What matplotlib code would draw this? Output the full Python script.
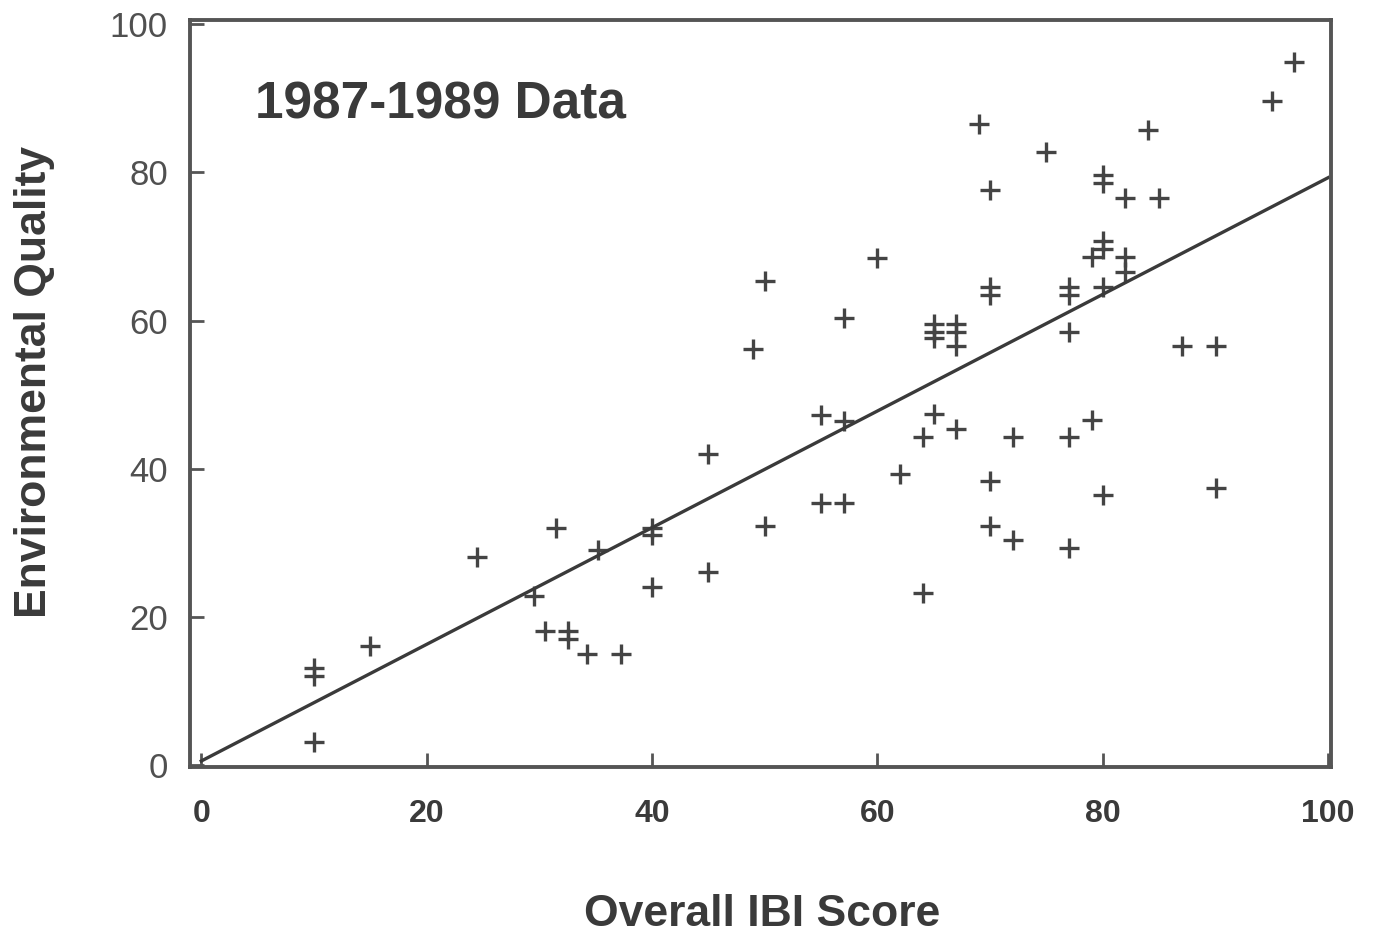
import matplotlib
matplotlib.use('Agg')
import matplotlib.pyplot as plt
import numpy as np

"""
DATA (read off the scanned figure)
"""
ibi = [10, 10, 10, 15, 24.5, 29.5, 30.5, 31.5, 32.5, 32.5, 34.2, 35.2, 37.2,
       40, 40, 40, 45, 45, 49, 50, 50, 55, 55, 57, 57, 57, 60, 62, 64, 64,
       65, 65, 65, 65, 67, 67, 67, 67, 69, 70, 70, 70, 70, 70, 72, 72, 75,
       77, 77, 77, 77, 77, 79, 79, 80, 80, 80, 80, 80, 80, 82, 82, 82, 84,
       85, 87, 90, 90, 95, 97]
envq = [13, 12, 3, 16, 28, 22.8, 18, 32, 18, 17, 15, 29, 15,
        32, 31, 24, 42, 26, 56.2, 65.3, 32.2, 47.3, 35.3, 60.4, 46.4, 35.3, 68.5, 39.3, 44.3, 23.2,
        59.5, 58.4, 57.6, 47.4, 59.5, 58.4, 56.5, 45.4, 86.6, 77.6, 64.5, 63.5, 38.3, 32.3, 44.3, 30.3, 82.7,
        64.5, 63.5, 58.5, 44.3, 29.3, 68.6, 46.5, 79.6, 78.6, 70.7, 69.6, 64.5, 36.4, 76.6, 68.6, 66.6, 85.7,
        76.6, 56.5, 56.5, 37.4, 89.7, 94.9]

# fitted line end points
fit_x = [0, 100]
fit_y = [0.5, 79.3]

xticks = [0, 20, 40, 60, 80, 100]
yticks = [0, 20, 40, 60, 80, 100]

"""
PLOT
"""
ink = '#3a3a3a'
plt.rcParams['font.family'] = ['Liberation Sans', 'DejaVu Sans']

fig = plt.figure(figsize=(13.77, 9.33), dpi=100)
ax = fig.add_axes([0.138, 0.178, 0.8286, 0.8006])

ax.plot(ibi, envq, linestyle='none', marker='+', markersize=14, markeredgewidth=2.4, color='#444444')
ax.plot(fit_x, fit_y, color='#3a3a3a', linewidth=2.4)

# scanned axes are slightly offset from the tick marks
ax.set_xlim(-1.0, 100.25)
ax.set_ylim(-0.3, 100.6)
ax.set_xticks(xticks)
ax.set_yticks(yticks)
ax.set_xticklabels([str(t) for t in xticks], fontweight='bold')
ax.set_yticklabels([str(t) for t in yticks])
ax.tick_params(axis='both', direction='in', length=10, width=2, color='#555555')
ax.tick_params(axis='x', pad=23, labelsize=23, labelcolor=ink)
ax.tick_params(axis='y', pad=16, labelsize=25, labelcolor='#505050')
for s in ax.spines.values():
    s.set_linewidth(2.8)
    s.set_color('#555555')

ax.set_xlabel('Overall IBI Score', fontsize=32, fontweight='bold', color=ink, va='center')
ax.xaxis.set_label_coords(0.501, -0.198)
ax.set_ylabel('Environmental Quality', fontsize=32, fontweight='bold', color=ink, va='center')
ax.yaxis.set_label_coords(-0.136, 0.515)
ax.text(0.057, 0.886, '1987-1989 Data', fontsize=37, fontweight='bold', color=ink,
        va='center', ha='left', transform=ax.transAxes)

plt.savefig('out.png', dpi=100)
plt.close()
